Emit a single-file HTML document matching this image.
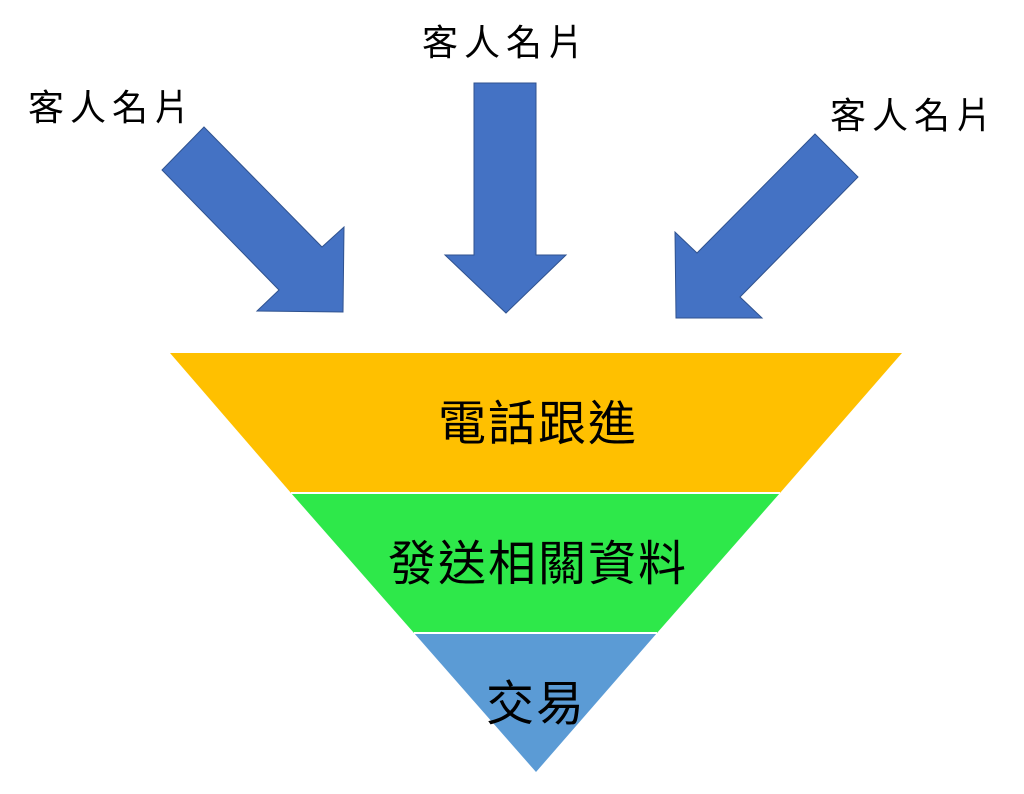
<!DOCTYPE html>
<html><head><meta charset="utf-8"><style>
html,body{margin:0;padding:0;background:#fff;}
svg text{font-family:"Liberation Sans","Noto Sans CJK TC",sans-serif;}
</style></head><body>
<svg width="1024" height="789" viewBox="0 0 1024 789" xmlns="http://www.w3.org/2000/svg">
<polygon points="170,353 902,353 780,493 291,493" fill="#FFC000"/>
<polygon points="291,493 780,493 657,633 414,633" fill="#2EE84A"/>
<polygon points="414,633 657,633 536,772" fill="#5B9BD5"/>
<line x1="291" y1="493" x2="780" y2="493" stroke="#fff" stroke-width="2"/>
<line x1="414" y1="633" x2="657" y2="633" stroke="#fff" stroke-width="2"/>
<g fill="#4472C4" stroke="#2F528F" stroke-width="1">
<polygon points="204,127 322,247 344,227 343,312 257,311 279,290 162,170"/>
<polygon points="474,83 536,83 536,255 566,255 506,313 445,255 474,255"/>
<polygon points="815,134 858,177 740,297 762,318 676,318 675,232 697,253"/>
</g>
<g font-size="36" fill="#000" text-anchor="middle">
<text x="112" y="120" letter-spacing="6">客人名片</text>
<text x="506" y="55" letter-spacing="6">客人名片</text>
<text x="914" y="128" letter-spacing="6">客人名片</text>
</g>
<g font-size="48" fill="#000" text-anchor="middle">
<text x="538" y="440" letter-spacing="2">電話跟進</text>
<text x="538" y="580" letter-spacing="2">發送相關資料</text>
<text x="536" y="720" letter-spacing="2">交易</text>
</g>
</svg>
</body></html>
